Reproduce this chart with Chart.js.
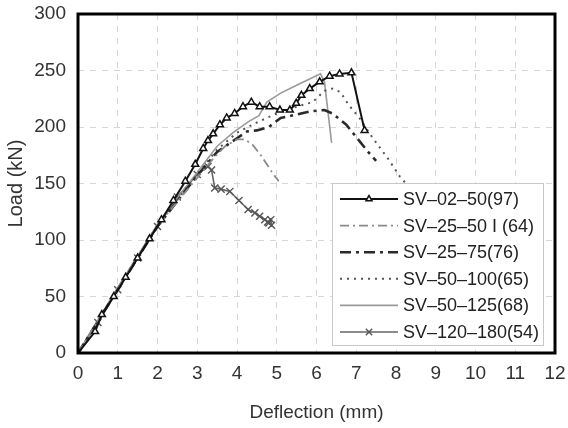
<!DOCTYPE html>
<html>
<head>
<meta charset="utf-8">
<script src="https://cdn.jsdelivr.net/npm/chart.js@4/dist/chart.umd.min.js"></script>
<style>
  html, body { margin: 0; padding: 0; background: #fff; }
  #wrap { width: 568px; height: 428px; position: relative; }
</style>
</head>
<body>
<div id="wrap"><canvas id="myChart" width="568" height="428"></canvas></div>
<script>
// Series names (legend)
var seriesNames = ['SV–02–50(97)', 'SV–25–50 I (64)', 'SV–25–75(76)', 'SV–50–100(65)', 'SV–50–125(68)', 'SV–120–180(54)'];

// Axis ticks
var xTicks = [0, 1, 2, 3, 4, 5, 6, 7, 8, 9, 10, 11, 12];
var yTicks = [0, 50, 100, 150, 200, 250, 300];

// Deflection (mm) / Load (kN)
var sv0250X = [0, 0.43, 0.6, 0.9, 1.2, 1.5, 1.8, 2.1, 2.4, 2.7, 2.95, 3.15, 3.27, 3.40, 3.57, 3.74, 3.94, 4.15, 4.36, 4.57, 4.82, 5.08, 5.33, 5.49, 5.62, 5.83, 6.08, 6.33, 6.58, 6.88, 7.21];
var sv0250Y = [0, 19, 34, 50, 67, 84, 101, 118, 135, 152, 167, 181, 188, 194, 202, 208, 212, 218, 222, 218, 218, 215, 215, 221, 228, 234, 240, 245, 247, 248, 197];

var sv2550X = [0, 1, 2, 3, 3.4, 3.7, 4.0, 4.2, 4.4, 4.6, 4.75, 4.9, 5.05];
var sv2550Y = [0, 57, 113, 155, 172, 183, 189, 189, 184, 175, 167, 159, 152];

var sv2575X = [0, 1, 2, 3, 3.5, 4.0, 4.25, 4.5, 4.8, 5.1, 5.5, 5.85, 6.2, 6.4, 6.75, 7.0, 7.3, 7.5];
var sv2575Y = [0, 56, 112, 157, 178, 190, 196, 197, 200, 208, 211, 214, 215, 212, 202, 191, 178, 170];

var sv50100X = [0, 1, 2, 3, 3.5, 4.0, 4.5, 5.0, 5.5, 5.9, 6.2, 6.4, 6.6, 6.8, 7.1, 7.4, 7.8, 8.1, 8.25];
var sv50100Y = [0, 57, 113, 158, 180, 195, 204, 212, 218, 222, 232, 234, 231, 220, 207, 191, 172, 156, 150];

var sv50125X = [0, 1, 2, 3, 3.5, 3.9, 4.3, 4.55, 4.75, 5.1, 5.5, 5.8, 6.1, 6.2, 6.38];
var sv50125Y = [0, 58, 114, 160, 183, 195, 205, 210, 222, 230, 237, 242, 247, 240, 186];

var sv120180X = [0, 0.5, 1, 1.5, 2, 2.5, 3, 3.27, 3.36, 3.44, 3.6, 3.82, 4.05, 4.28, 4.45, 4.57, 4.7, 4.77, 4.87, 4.85, 4.8];
var sv120180Y = [0, 27, 56, 84, 112, 138, 158, 165, 162, 146, 145, 143, 135, 127, 124, 121, 118, 116, 113, 118, 115];

function pts(xs, ys) {
    var out = [];
    for (var i = 0; i < xs.length; i++) out.push({ x: xs[i], y: ys[i] });
    return out;
}

var FONT = "'Liberation Sans', Arial, sans-serif";

// frame around the plot area
var framePlugin = {
    id: 'frame',
    afterDatasetsDraw: function(chart) {
        var a = chart.chartArea, ctx = chart.ctx;
        ctx.save();
        ctx.strokeStyle = '#000';
        ctx.lineWidth = 3;
        ctx.strokeRect(a.left, a.top, a.right - a.left, a.bottom - a.top);
        ctx.restore();
    }
};

// legend box drawn inside the plot
var legendPlugin = {
    id: 'boxLegend',
    afterDraw: function(chart) {
        var ctx = chart.ctx;
        var left = 332, top = 183, w = 211, h = 162;
        ctx.save();
        ctx.fillStyle = '#fff';
        ctx.fillRect(left, top, w, h);
        ctx.strokeStyle = '#c8c8c8';
        ctx.lineWidth = 1;
        ctx.strokeRect(left + 0.5, top + 0.5, w, h);
        chart.data.datasets.forEach(function(ds, i) {
            var y = top + 16 + i * 26.6;
            ctx.save();
            ctx.strokeStyle = ds.borderColor;
            ctx.lineWidth = ds.borderWidth;
            ctx.setLineDash(ds.borderDash || []);
            ctx.beginPath();
            ctx.moveTo(340, y);
            ctx.lineTo(398, y);
            ctx.stroke();
            ctx.restore();
            if (ds.pointRadius > 0) {
                ctx.save();
                ctx.strokeStyle = ds.pointBorderColor;
                ctx.fillStyle = ds.pointBackgroundColor;
                ctx.lineWidth = ds.pointBorderWidth;
                Chart.helpers.drawPoint(ctx, {
                    pointStyle: ds.pointStyle,
                    radius: ds.pointRadius - 0.5,
                    rotation: 0,
                    borderWidth: ds.pointBorderWidth
                }, 369, y);
                ctx.restore();
            }
            ctx.fillStyle = '#222';
            ctx.font = '18px ' + FONT;
            ctx.textBaseline = 'middle';
            ctx.fillText(ds.label, 403, y + 1);
        });
        ctx.restore();
    }
};

var ctx = document.getElementById('myChart').getContext('2d');
var myChart = new Chart(ctx, {
    type: 'scatter',
    data: {
        datasets: [{
            label: seriesNames[0],
            data: pts(sv0250X, sv0250Y),
            showLine: true,
            borderColor: '#111',
            borderWidth: 2,
            pointStyle: 'triangle',
            pointRadius: 4,
            pointBackgroundColor: '#fff',
            pointBorderColor: '#111',
            pointBorderWidth: 1.5
        }, {
            label: seriesNames[1],
            data: pts(sv2550X, sv2550Y),
            showLine: true,
            borderColor: '#8a8a8a',
            borderWidth: 1.8,
            borderDash: [9, 4, 2, 4],
            pointRadius: 0
        }, {
            label: seriesNames[2],
            data: pts(sv2575X, sv2575Y),
            showLine: true,
            borderColor: '#2a2a2a',
            borderWidth: 2.6,
            borderDash: [11, 5, 3, 5],
            pointRadius: 0
        }, {
            label: seriesNames[3],
            data: pts(sv50100X, sv50100Y),
            showLine: true,
            borderColor: '#555',
            borderWidth: 2,
            borderDash: [2, 5],
            pointRadius: 0
        }, {
            label: seriesNames[4],
            data: pts(sv50125X, sv50125Y),
            showLine: true,
            borderColor: '#9a9a9a',
            borderWidth: 1.6,
            pointRadius: 0
        }, {
            label: seriesNames[5],
            data: pts(sv120180X, sv120180Y),
            showLine: true,
            borderColor: '#666',
            borderWidth: 1.6,
            pointStyle: 'crossRot',
            pointRadius: 5,
            pointBackgroundColor: '#666',
            pointBorderColor: '#555',
            pointBorderWidth: 1.4
        }]
    },
    options: {
        responsive: false,
        animation: false,
        layout: { padding: { top: 14, right: 13, left: 0, bottom: 0 } },
        plugins: {
            legend: { display: false },
            tooltip: { enabled: false }
        },
        scales: {
            x: {
                type: 'linear',
                min: 0, max: 12,
                afterBuildTicks: function(s) { s.ticks = xTicks.map(function(v) { return { value: v }; }); },
                afterFit: function(s) { s.height = 75; s.paddingLeft = 0; s.paddingRight = 0; },
                border: { display: false, dash: [6, 6] },
                grid: { color: '#d6d6d6', drawTicks: false, lineWidth: 1 },
                ticks: { color: '#333', font: { family: FONT, size: 19 }, padding: 9, maxRotation: 0 },
                title: { display: true, text: 'Deflection (mm)', color: '#333', font: { family: FONT, size: 19 }, padding: { top: 0 } }
            },
            y: {
                type: 'linear',
                min: 0, max: 300,
                afterBuildTicks: function(s) { s.ticks = yTicks.map(function(v) { return { value: v }; }); },
                afterFit: function(s) { s.width = 78; s.paddingTop = 0; s.paddingBottom = 0; },
                border: { display: false, dash: [6, 6] },
                grid: { color: '#d6d6d6', drawTicks: false, lineWidth: 1 },
                ticks: { color: '#333', font: { family: FONT, size: 19 }, padding: 12 },
                title: { display: true, text: 'Load (kN)', color: '#333', font: { family: FONT, size: 20 }, padding: { bottom: 0 } }
            }
        }
    },
    plugins: [framePlugin, legendPlugin]
});
</script>
</body>
</html>
